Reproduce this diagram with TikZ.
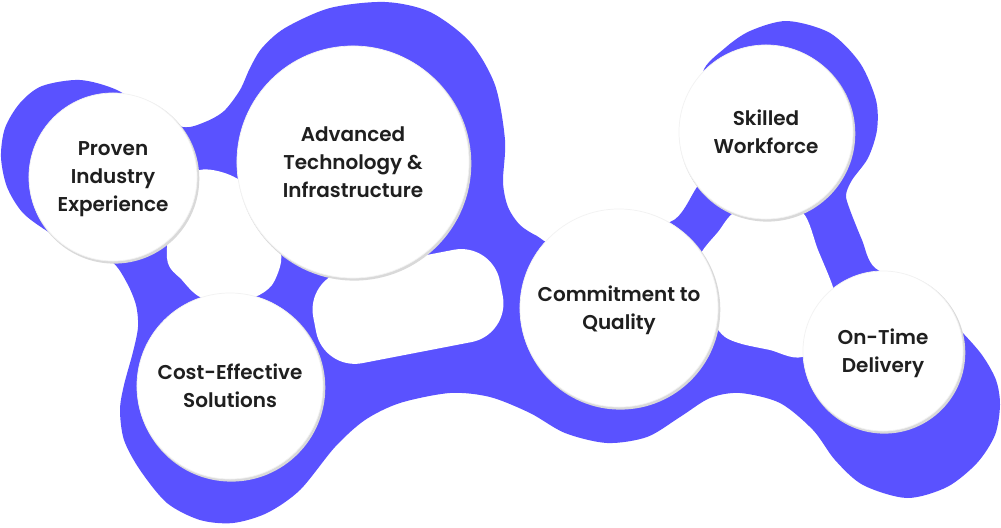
\documentclass[tikz,border=0pt]{standalone}
\usepackage{fontspec}
\newfontfamily\labfont{Poppins SemiBold}
\definecolor{blob}{HTML}{5A52FF}
\definecolor{ink}{HTML}{1F1F1F}
\begin{document}
\begin{tikzpicture}[x=0.025cm,y=-0.025cm,
  bubble/.style={circle, fill=white, draw=gray!10, line width=0.5pt, inner sep=0pt, outer sep=0pt,
    align=center, text=ink, text depth=0pt, font=\labfont\fontsize{14.2}{19.9}\selectfont},
  ring/.style={fill=gray!30},
  hole/.style={fill=white}]
\fill[white] (0,0) rectangle (1001,527);
\useasboundingbox (0,0) rectangle (1001,527);
% purple blob outline
\fill[blob] plot[smooth cycle, tension=0.5] coordinates {
 (1,157) (5,128) (20,103) (42,86) (80,80) (117,90) (150,112) (183,127) (205,122) (224,111)
 (240,90) (250,68) (262,48) (285,28) (330,8) (385,2) (430,12) (470,42) (495,85) (505,140)
 (503,182) (508,207) (520,225) (537,236) (555,242) (610,215) (670,222) (697,187) (720,150)
 (712,110) (703,72) (725,48) (750,31) (787,21) (830,33) (860,63) (876,100) (877,130) (868,158)
 (852,180) (846,195) (850,210) (862,240) (875,268) (920,290) (960,330) (982,355) (996,380)
 (1000,405) (995,435) (977,463) (947,487) (907,498) (863,485) (835,460) (813,430) (780,403)
 (740,393) (710,398) (680,417) (647,437) (607,443) (565,433) (530,413) (490,397) (450,393)
 (400,403) (365,420) (335,447) (300,490) (267,513) (233,523) (200,520) (167,503) (140,470)
 (124,440) (120,410) (124,385) (133,352) (138,327) (136,305) (127,283) (112,262) (80,250)
 (50,233) (23,213) (7,187)};
% interior holes
\fill[hole] plot[smooth cycle, tension=0.5] coordinates {
 (175,190) (200,170) (230,175) (258,195) (278,240) (281,262) (272,285) (255,297) (228,302)
 (200,297) (182,280) (167,258)};
\fill[hole] plot[smooth cycle, tension=0.5] coordinates {
 (700,255) (718,232) (735,212) (770,205) (803,213) (818,250) (833,287) (845,330) (802,357)
 (770,350) (742,344) (725,337) (712,322) (690,290)};
\fill[hole, rounded corners=28pt] (305.8,278.4) -- (492.4,242.3) -- (510.2,334.6) -- (323.6,370.6) -- cycle;
% bubbles
\foreach \n/\x/\y/\r/\d/\t in {
  proven/113/177/85/4.2/{Proven\\Industry\\Experience},
  advanced/353/162/117/5.8/{Advanced\\Technology \&\\Infrastructure},
  cost/230/386/94/4.65/{Cost-Effective\\Solutions},
  quality/619/308/100/4.95/{Commitment to\\Quality},
  skilled/766/132/88/4.35/{Skilled\\Workforce},
  ontime/883/351/81/4.0/{On-Time\\Delivery}}{
  \fill[ring] (\x+1.3,\y+1.6) circle (\r);
  \node[bubble, minimum size=\d cm] (\n) at (\x,\y) {\t};
}
\end{tikzpicture}
\end{document}
